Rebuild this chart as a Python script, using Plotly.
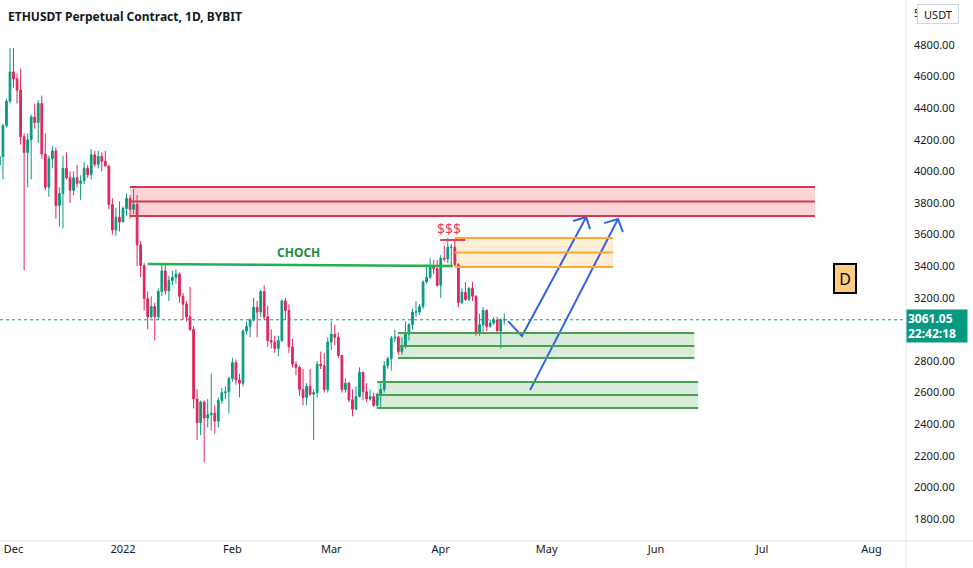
import plotly.graph_objects as go

# ---------------- data ----------------
dates = [
    "2021-11-27", "2021-11-28", "2021-11-29", "2021-11-30", "2021-12-01", "2021-12-02", "2021-12-03",
    "2021-12-04", "2021-12-05", "2021-12-06", "2021-12-07", "2021-12-08", "2021-12-09", "2021-12-10",
    "2021-12-11", "2021-12-12", "2021-12-13", "2021-12-14", "2021-12-15", "2021-12-16", "2021-12-17",
    "2021-12-18", "2021-12-19", "2021-12-20", "2021-12-21", "2021-12-22", "2021-12-23", "2021-12-24",
    "2021-12-25", "2021-12-26", "2021-12-27", "2021-12-28", "2021-12-29", "2021-12-30", "2021-12-31",
    "2022-01-01", "2022-01-02", "2022-01-03", "2022-01-04", "2022-01-05", "2022-01-06", "2022-01-07",
    "2022-01-08", "2022-01-09", "2022-01-10", "2022-01-11", "2022-01-12", "2022-01-13", "2022-01-14",
    "2022-01-15", "2022-01-16", "2022-01-17", "2022-01-18", "2022-01-19", "2022-01-20", "2022-01-21",
    "2022-01-22", "2022-01-23", "2022-01-24", "2022-01-25", "2022-01-26", "2022-01-27", "2022-01-28",
    "2022-01-29", "2022-01-30", "2022-01-31", "2022-02-01", "2022-02-02", "2022-02-03", "2022-02-04",
    "2022-02-05", "2022-02-06", "2022-02-07", "2022-02-08", "2022-02-09", "2022-02-10", "2022-02-11",
    "2022-02-12", "2022-02-13", "2022-02-14", "2022-02-15", "2022-02-16", "2022-02-17", "2022-02-18",
    "2022-02-19", "2022-02-20", "2022-02-21", "2022-02-22", "2022-02-23", "2022-02-24", "2022-02-25",
    "2022-02-26", "2022-02-27", "2022-02-28", "2022-03-01", "2022-03-02", "2022-03-03", "2022-03-04",
    "2022-03-05", "2022-03-06", "2022-03-07", "2022-03-08", "2022-03-09", "2022-03-10", "2022-03-11",
    "2022-03-12", "2022-03-13", "2022-03-14", "2022-03-15", "2022-03-16", "2022-03-17", "2022-03-18",
    "2022-03-19", "2022-03-20", "2022-03-21", "2022-03-22", "2022-03-23", "2022-03-24", "2022-03-25",
    "2022-03-26", "2022-03-27", "2022-03-28", "2022-03-29", "2022-03-30", "2022-03-31", "2022-04-01",
    "2022-04-02", "2022-04-03", "2022-04-04", "2022-04-05", "2022-04-06", "2022-04-07", "2022-04-08",
    "2022-04-09", "2022-04-10", "2022-04-11", "2022-04-12", "2022-04-13", "2022-04-14", "2022-04-15",
    "2022-04-16", "2022-04-17", "2022-04-18", "2022-04-19",
]
opens = [
    4040, 4095, 4290, 4445, 4630, 4585, 4515,
    4220, 4120, 4200, 4345, 4310, 4430, 4110,
    3900, 4080, 4130, 3785, 3860, 4020, 3960,
    3880, 3960, 3925, 3940, 4020, 3980, 4105,
    4045, 4095, 4065, 4035, 3790, 3630, 3710,
    3680, 3765, 3830, 3760, 3790, 3535, 3405,
    3195, 3080, 3145, 3080, 3240, 3370, 3245,
    3310, 3330, 3350, 3210, 3160, 3080, 3000,
    2560, 2410, 2540, 2440, 2460, 2470, 2420,
    2550, 2600, 2605, 2690, 2790, 2680, 2660,
    2990, 3020, 3060, 3140, 3110, 3240, 3080,
    2930, 2920, 2880, 2930, 3180, 3120, 2890,
    2780, 2760, 2620, 2570, 2640, 2590, 2600,
    2780, 2770, 2620, 2920, 2970, 2950, 2835,
    2620, 2660, 2555, 2495, 2575, 2730, 2605,
    2560, 2575, 2520, 2590, 2620, 2770, 2815,
    2945, 2950, 2860, 2895, 2970, 3030, 3110,
    3110, 3145, 3300, 3330, 3400, 3385, 3280,
    3450, 3445, 3520, 3520, 3410, 3170, 3235,
    3190, 3260, 3210, 2980, 3030, 3120, 3020,
    3040, 3060, 2990, 3060,
]
highs = [
    4180, 4300, 4460, 4780, 4780, 4620, 4650,
    4240, 4240, 4360, 4430, 4450, 4480, 4240,
    4100, 4160, 4150, 3900, 4100, 4120, 4000,
    4000, 4040, 3975, 4060, 4040, 4140, 4130,
    4130, 4120, 4130, 4040, 3830, 3770, 3810,
    3780, 3860, 3850, 3890, 3850, 3560, 3420,
    3240, 3210, 3170, 3260, 3410, 3410, 3340,
    3370, 3380, 3360, 3230, 3180, 3270, 3020,
    2620, 2550, 2550, 2560, 2720, 2520, 2570,
    2630, 2640, 2700, 2820, 2810, 2720, 3000,
    3050, 3070, 3200, 3180, 3250, 3280, 3150,
    3000, 2960, 2960, 3190, 3200, 3160, 2940,
    2800, 2770, 2750, 2660, 2750, 2620, 2800,
    2860, 2850, 2950, 3050, 3030, 2980, 2840,
    2690, 2670, 2620, 2640, 2760, 2730, 2660,
    2620, 2600, 2600, 2660, 2800, 2830, 2960,
    3000, 2960, 2950, 3050, 3040, 3130, 3180,
    3160, 3310, 3410, 3450, 3440, 3440, 3470,
    3530, 3580, 3540, 3560, 3420, 3260, 3300,
    3270, 3300, 3215, 3100, 3140, 3130, 3060,
    3080, 3080, 3070, 3100,
]
lows = [
    4030, 3950, 4280, 4430, 4530, 4430, 4170,
    3376, 3900, 3950, 4270, 4180, 4080, 3880,
    3840, 4020, 3700, 3650, 3640, 3950, 3800,
    3850, 3900, 3820, 3920, 3960, 3950, 4030,
    4020, 4000, 4030, 3760, 3600, 3590, 3620,
    3680, 3720, 3700, 3730, 3400, 3330, 3120,
    3000, 3070, 2930, 3060, 3210, 3220, 3180,
    3280, 3290, 3170, 3060, 3050, 2990, 2500,
    2300, 2330, 2160, 2380, 2360, 2340, 2380,
    2530, 2560, 2470, 2670, 2650, 2570, 2640,
    2970, 2950, 3050, 2950, 3080, 3060, 2890,
    2880, 2850, 2830, 2920, 3060, 2850, 2760,
    2710, 2580, 2520, 2520, 2580, 2300, 2570,
    2750, 2600, 2600, 2870, 2900, 2820, 2600,
    2600, 2540, 2450, 2490, 2570, 2550, 2540,
    2550, 2510, 2500, 2500, 2600, 2750, 2740,
    2920, 2840, 2840, 2880, 2930, 3000, 3080,
    3090, 3130, 3290, 3320, 3350, 3270, 3200,
    3430, 3420, 3400, 3400, 3140, 3160, 3180,
    3180, 3180, 2960, 2960, 2980, 2990, 3010,
    3030, 2990, 2880, 3030,
]
closes = [
    4095, 4290, 4445, 4630, 4585, 4515, 4220,
    4120, 4200, 4345, 4310, 4430, 4110, 3900,
    4080, 4130, 3785, 3860, 4020, 3960, 3880,
    3960, 3925, 3940, 4020, 3980, 4105, 4045,
    4095, 4065, 4035, 3790, 3630, 3710, 3680,
    3765, 3830, 3760, 3790, 3535, 3405, 3195,
    3080, 3145, 3080, 3240, 3370, 3245, 3310,
    3330, 3350, 3210, 3160, 3080, 3000, 2560,
    2410, 2540, 2440, 2460, 2470, 2420, 2550,
    2600, 2605, 2690, 2790, 2680, 2660, 2990,
    3020, 3060, 3140, 3110, 3240, 3080, 2930,
    2920, 2880, 2930, 3180, 3120, 2890, 2780,
    2760, 2620, 2570, 2640, 2590, 2600, 2780,
    2770, 2620, 2920, 2970, 2950, 2835, 2620,
    2660, 2555, 2495, 2575, 2730, 2605, 2560,
    2575, 2520, 2590, 2620, 2770, 2815, 2945,
    2950, 2860, 2895, 2970, 3030, 3110, 3110,
    3145, 3300, 3330, 3400, 3385, 3280, 3450,
    3445, 3520, 3520, 3410, 3170, 3235, 3190,
    3260, 3210, 2980, 3030, 3120, 3020, 3040,
    3060, 2990, 3060, 3061.05,
]
last_price = 3061.05
countdown = "22:42:18"

month_ticks = ["2021-12-01", "2022-01-01", "2022-02-01", "2022-03-01", "2022-04-01",
               "2022-05-01", "2022-06-01", "2022-07-01", "2022-08-01"]
month_labels = ["Dec", "2022", "Feb", "Mar", "Apr", "May", "Jun", "Jul", "Aug"]
# 3000 is hidden behind the last-price tag in the reference
price_ticks = [1800, 2000, 2200, 2400, 2600, 2800, 3200, 3400, 3600, 3800,
               4000, 4200, 4400, 4600, 4800, 5000]

# drawings: zones (x0, x1, top, mid, bottom)
red_zone = ("2022-01-03", "2022-07-16", 3901, 3810, 3718)
orange_zone = ("2022-04-05", "2022-05-19 20:00", 3578, 3487, 3395)
green_zone_1 = ("2022-03-19 22:00", "2022-06-11 20:00", 2977, 2895, 2819)
green_zone_2 = ("2022-03-14", "2022-06-12 22:00", 2667, 2585, 2503)
choch_line = (("2022-01-08", 3414), ("2022-04-04 10:00", 3401))
liquidity_line = (("2022-03-31 20:00", 3566), ("2022-04-07 22:00", 3566))
arrow_1 = [("2022-04-20 02:00", 3053), ("2022-04-24", 2958), ("2022-05-12 05:00", 3711)]
arrow_1_head = [("2022-05-08 12:00", 3686), ("2022-05-12 05:00", 3711), ("2022-05-13 07:00", 3635)]
arrow_2 = [("2022-04-26 07:00", 2616), ("2022-05-21 05:00", 3699)]
arrow_2_head = [("2022-05-17 07:00", 3673), ("2022-05-21 05:00", 3699), ("2022-05-22 14:00", 3616)]

UP = "#089981"
DOWN = "#e3245b"
FONT = "Noto Sans"

fig = go.Figure()
fig.add_trace(go.Candlestick(
    x=dates, open=opens, high=highs, low=lows, close=closes,
    increasing=dict(line=dict(color=UP, width=1), fillcolor=UP),
    decreasing=dict(line=dict(color=DOWN, width=1), fillcolor=DOWN),
    whiskerwidth=0, showlegend=False, hoverinfo="skip",
))

shapes = []


def zone(z, fill, line):
    x0, x1, top, mid, bot = z
    shapes.append(dict(type="rect", xref="x", yref="y", x0=x0, x1=x1, y0=bot, y1=top,
                       fillcolor=fill, line=dict(width=0), layer="below"))
    for p in (top, mid, bot):
        shapes.append(dict(type="line", xref="x", yref="y", x0=x0, x1=x1, y0=p, y1=p,
                           line=dict(color=line, width=2)))


zone(red_zone, "rgba(242,54,69,0.22)", "#cf3a4c")
zone(orange_zone, "rgba(255,152,0,0.16)", "#ffa733")
zone(green_zone_1, "rgba(76,175,80,0.22)", "#4c9f50")
zone(green_zone_2, "rgba(76,175,80,0.22)", "#4c9f50")

shapes.append(dict(type="line", xref="x", yref="y",
                   x0=choch_line[0][0], y0=choch_line[0][1], x1=choch_line[1][0], y1=choch_line[1][1],
                   line=dict(color="#22b14c", width=2.5)))
shapes.append(dict(type="line", xref="x", yref="y",
                   x0=liquidity_line[0][0], y0=liquidity_line[0][1], x1=liquidity_line[1][0], y1=liquidity_line[1][1],
                   line=dict(color="#d9455a", width=2)))
# last price dotted line
shapes.append(dict(type="line", xref="paper", yref="y", x0=0, x1=1, y0=last_price, y1=last_price,
                   line=dict(color=UP, width=1, dash="dot")))
# axis separators
shapes.append(dict(type="line", xref="paper", yref="paper", x0=1.001, x1=1.001, y0=-0.06, y1=1,
                   line=dict(color="#e0e3eb", width=1)))
shapes.append(dict(type="line", xref="paper", yref="paper", x0=0, x1=1.08, y0=0, y1=0,
                   line=dict(color="#e0e3eb", width=1)))
fig.update_layout(shapes=shapes)

for pts in (arrow_1, arrow_1_head, arrow_2, arrow_2_head):
    fig.add_trace(go.Scatter(x=[p[0] for p in pts], y=[p[1] for p in pts], mode="lines",
                             line=dict(color="#2f63e6", width=2), showlegend=False, hoverinfo="skip"))

annotations = [
    dict(xref="paper", yref="paper", x=0, y=1, xanchor="left", yanchor="top", xshift=6, yshift=-6,
         text="<b>ETHUSDT Perpetual Contract, 1D, BYBIT</b>", showarrow=False,
         font=dict(family=FONT, size=12, color="#131722")),
    dict(xref="x", yref="y", x="2022-02-19 14:00", y=3484, text="<b>CHOCH</b>", showarrow=False,
         font=dict(family=FONT, size=12, color="#1e8a3c")),
    dict(xref="x", yref="y", x="2022-04-03 10:00", y=3642, text="$$$", showarrow=False,
         font=dict(family=FONT, size=14, color="#e0405a")),
    dict(xref="x", yref="y", x="2022-07-24 12:00", y=3325, text="D", showarrow=False,
         font=dict(family=FONT, size=16, color="#000000"),
         bgcolor="#ffcc80", bordercolor="#000000", borderwidth=2, width=18, height=25),
    dict(xref="paper", yref="y", x=1, y=last_price, xanchor="left", yanchor="middle", xshift=1, yshift=-6,
         text="<b>%.2f</b><br><b>%s</b>" % (last_price, countdown), showarrow=False, align="left",
         font=dict(family=FONT, size=12, color="#ffffff"), bgcolor=UP, width=58, height=30),
    dict(xref="paper", yref="paper", x=1, y=1, xanchor="left", yanchor="top", xshift=12, yshift=-4,
         text="USDT", showarrow=False, font=dict(family=FONT, size=11, color="#131722"),
         bgcolor="#ffffff", bordercolor="#d1d4dc", borderwidth=1, width=38, height=16),
]
fig.update_layout(annotations=annotations)

fig.update_layout(
    width=973, height=568,
    margin=dict(l=0, r=68, t=0, b=27),
    paper_bgcolor="#ffffff", plot_bgcolor="#ffffff",
    font=dict(family=FONT, size=11, color="#131722"),
    showlegend=False,
    xaxis=dict(
        type="date", range=["2021-11-27 04:00", "2022-08-10 12:00"],
        tickvals=month_ticks, ticktext=month_labels, showgrid=False, zeroline=False,
        rangeslider=dict(visible=False), ticks="", tickfont=dict(size=11, color="#131722"),
        fixedrange=True,
    ),
    yaxis=dict(
        side="right", range=[1661, 5085], tickvals=price_ticks, tickformat=".2f",
        showgrid=False, zeroline=False, ticks="", ticklabelstandoff=8,
        tickfont=dict(size=11, color="#131722"), fixedrange=True,
    ),
)

fig.write_html("out.html")
